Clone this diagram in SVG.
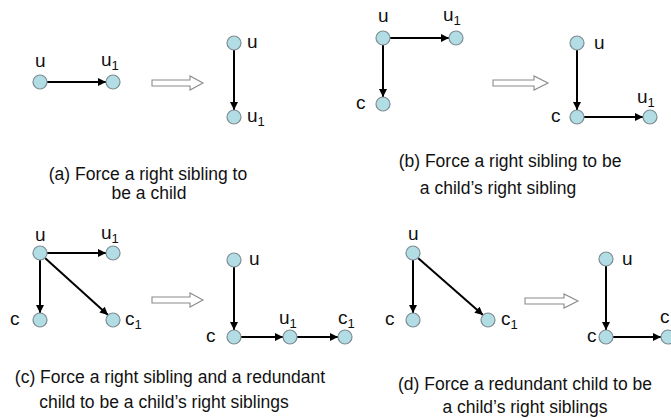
<svg xmlns="http://www.w3.org/2000/svg" width="671" height="418" viewBox="0 0 671 418">
<defs>
<style>
.n{fill:#b3dde5;stroke:#7d8c92;stroke-width:1.2}
.e{stroke:#000;stroke-width:2;fill:none;marker-end:url(#ah)}
.h{fill:#fff;stroke:#8a8a8a;stroke-width:1.1}
.l{font-family:"Liberation Sans",Arial,sans-serif;font-size:19px;fill:#111}
.s{font-size:13px}
.cap{font-family:"Liberation Sans",Arial,sans-serif;font-size:17.5px;fill:#111;text-anchor:middle}
</style>
<marker id="ah" viewBox="0 0 10 10" refX="10" refY="5" markerWidth="4.5" markerHeight="4" orient="auto" markerUnits="strokeWidth">
<path d="M0,0 L10,5 L0,10 z" fill="#000"/>
</marker>
</defs>
<rect width="671" height="418" fill="#fff"/>

<g id="connectors">
<!-- (a) -->
<line class="e" x1="47" y1="82" x2="106" y2="82"/>
<line class="e" x1="234" y1="50" x2="234" y2="110"/>
<!-- (b) -->
<line class="e" x1="390" y1="38" x2="449" y2="38"/>
<line class="e" x1="383" y1="45" x2="383" y2="97"/>
<line class="e" x1="577" y1="50" x2="577" y2="110"/>
<line class="e" x1="584" y1="117" x2="643" y2="117"/>
<!-- (c) -->
<line class="e" x1="47" y1="253" x2="106" y2="253"/>
<line class="e" x1="40" y1="260" x2="40" y2="313"/>
<line class="e" x1="45" y1="258" x2="108" y2="315"/>
<line class="e" x1="234" y1="267" x2="234" y2="330"/>
<line class="e" x1="241" y1="337" x2="283" y2="337"/>
<line class="e" x1="297" y1="337" x2="338" y2="337"/>
<!-- (d) -->
<line class="e" x1="413" y1="260" x2="413" y2="313"/>
<line class="e" x1="418" y1="258" x2="483" y2="315"/>
<line class="e" x1="606" y1="266" x2="606" y2="330"/>
<line class="e" x1="613" y1="337" x2="661" y2="337"/>
</g>

<g id="transform-arrows">
<path class="h" d="M152,80 H190 V76 L203,83 L190,90 V86 H152 z"/>
<path class="h" d="M493,80 H534 V76 L548,83 L534,90 V86 H493 z"/>
<path class="h" d="M152,297 H190 V293 L203,300 L190,307 V303 H152 z"/>
<path class="h" d="M525,298 H564 V294 L578,301 L564,308 V304 H525 z"/>
</g>

<!-- Panel (a) -->
<g id="a-u"><circle class="n" cx="40" cy="82" r="7"/><text class="l" x="35" y="67">u</text></g>
<g id="a-u1"><circle class="n" cx="113" cy="82" r="7"/><text class="l" x="101" y="66">u<tspan class="s" dy="4">1</tspan></text></g>
<g id="a2-u"><circle class="n" cx="234" cy="43" r="7"/><text class="l" x="247" y="48">u</text></g>
<g id="a2-u1"><circle class="n" cx="234" cy="117" r="7"/><text class="l" x="247" y="122">u<tspan class="s" dy="4">1</tspan></text></g>

<!-- Panel (b) -->
<g id="b-u"><circle class="n" cx="383" cy="38" r="7"/><text class="l" x="378" y="22">u</text></g>
<g id="b-u1"><circle class="n" cx="456" cy="38" r="7"/><text class="l" x="443" y="21">u<tspan class="s" dy="4">1</tspan></text></g>
<g id="b-c"><circle class="n" cx="383" cy="104" r="7"/><text class="l" x="356" y="109">c</text></g>
<g id="b2-u"><circle class="n" cx="577" cy="43" r="7"/><text class="l" x="594" y="49">u</text></g>
<g id="b2-c"><circle class="n" cx="577" cy="117" r="7"/><text class="l" x="551" y="122">c</text></g>
<g id="b2-u1"><circle class="n" cx="650" cy="117" r="7"/><text class="l" x="637" y="103">u<tspan class="s" dy="4">1</tspan></text></g>

<!-- Panel (c) -->
<g id="c-u"><circle class="n" cx="40" cy="253" r="7"/><text class="l" x="35" y="241">u</text></g>
<g id="c-u1"><circle class="n" cx="113" cy="253" r="7"/><text class="l" x="101" y="239">u<tspan class="s" dy="4">1</tspan></text></g>
<g id="c-c"><circle class="n" cx="40" cy="320" r="7"/><text class="l" x="10" y="325">c</text></g>
<g id="c-c1"><circle class="n" cx="113" cy="320" r="7"/><text class="l" x="125" y="325">c<tspan class="s" dy="4">1</tspan></text></g>
<g id="c2-u"><circle class="n" cx="234" cy="260" r="7"/><text class="l" x="249" y="265">u</text></g>
<g id="c2-c"><circle class="n" cx="234" cy="337" r="7"/><text class="l" x="206" y="342">c</text></g>
<g id="c2-u1"><circle class="n" cx="290" cy="337" r="7"/><text class="l" x="279" y="324">u<tspan class="s" dy="4">1</tspan></text></g>
<g id="c2-c1"><circle class="n" cx="345" cy="337" r="7"/><text class="l" x="338" y="324">c<tspan class="s" dy="4">1</tspan></text></g>

<!-- Panel (d) -->
<g id="d-u"><circle class="n" cx="413" cy="253" r="7"/><text class="l" x="408" y="240">u</text></g>
<g id="d-c"><circle class="n" cx="413" cy="320" r="7"/><text class="l" x="385" y="325">c</text></g>
<g id="d-c1"><circle class="n" cx="488" cy="320" r="7"/><text class="l" x="501" y="325">c<tspan class="s" dy="4">1</tspan></text></g>
<g id="d2-u"><circle class="n" cx="606" cy="259" r="7"/><text class="l" x="622" y="265">u</text></g>
<g id="d2-c"><circle class="n" cx="606" cy="337" r="7"/><text class="l" x="587" y="342">c</text></g>
<g id="d2-c1"><circle class="n" cx="668" cy="337" r="7"/><text class="l" x="660" y="323">c</text></g>

<g id="captions">
<text class="cap" x="148" y="180">(a) Force a right sibling to</text>
<text class="cap" x="149" y="199">be a child</text>
<text class="cap" x="510" y="167">(b) Force a right sibling to be</text>
<text class="cap" x="498" y="194">a child’s right sibling</text>
<text class="cap" x="170" y="383">(c) Force a right sibling and a redundant</text>
<text class="cap" x="164" y="408">child to be a child’s right siblings</text>
<text class="cap" x="525" y="390">(d) Force a redundant child to be</text>
<text class="cap" x="525" y="413">a child’s right siblings</text>
</g>
</svg>
